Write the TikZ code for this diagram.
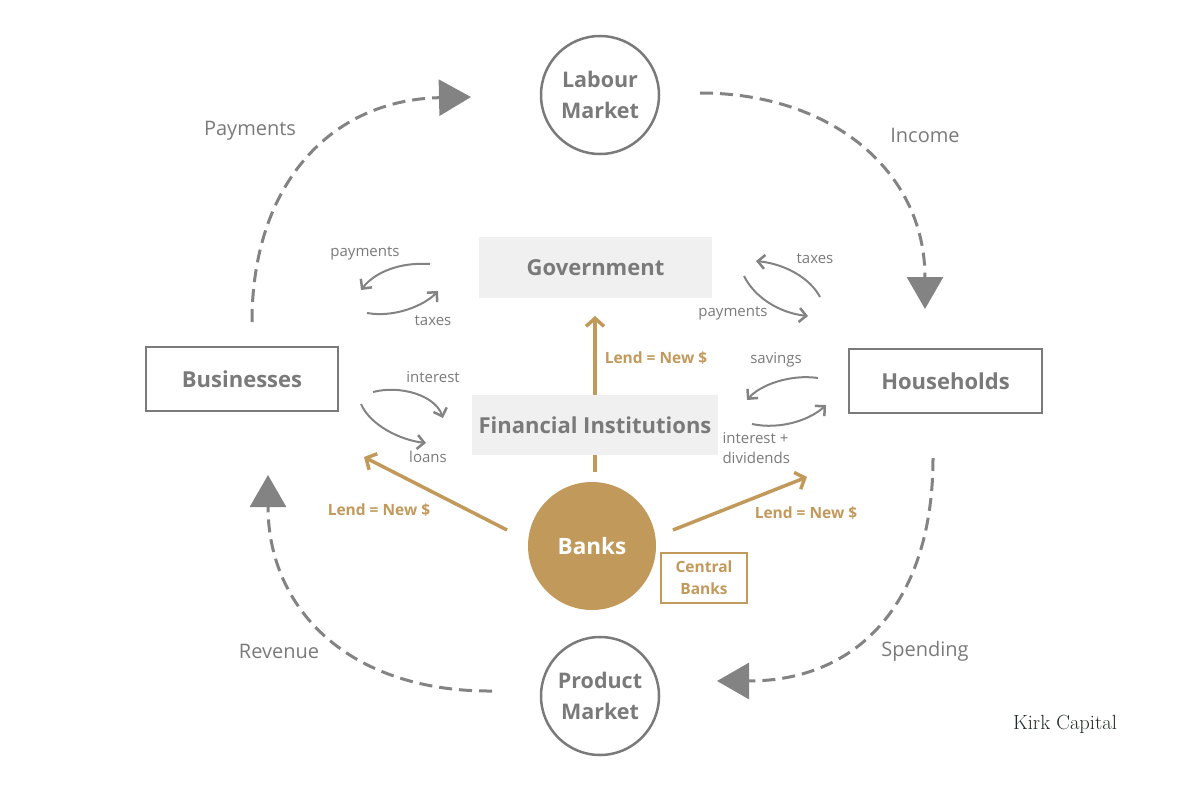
\documentclass[tikz,border=0pt]{standalone}
\usepackage{fontspec}
\setmainfont{Open Sans}
\newfontfamily\lmfont{Latin Modern Roman}
\usetikzlibrary{arrows.meta}
\definecolor{tgray}{HTML}{7A7A7A}
\definecolor{lgray}{HTML}{838383}
\definecolor{gold}{HTML}{C19A5B}
\definecolor{boxfill}{HTML}{F0F0F0}
\definecolor{kirk}{HTML}{1E2A22}
\tikzset{
  mcircle/.style={circle, draw=tgray, line width=2.5pt, minimum size=118pt, inner sep=0pt, align=center, font=\bfseries\fontsize{21.5}{31}\selectfont, text=tgray},
  fillbox/.style={rectangle, fill=boxfill, inner sep=0pt, font=\bfseries\fontsize{22}{26}\selectfont, text=tgray},
  framebox/.style={rectangle, draw=tgray, line width=2.5pt, fill=white, inner sep=0pt, font=\bfseries\fontsize{22}{26}\selectfont, text=tgray},
  bigflow/.style={draw=lgray, line width=3pt, dash pattern=on 13pt off 7pt, -{Triangle[length=32pt,width=36pt]}},
  flowlabel/.style={font=\fontsize{20}{24}\selectfont, text=tgray},
  small/.style={draw=lgray, line width=2pt, -{Straight Barb[length=7pt,width=14pt,line width=2.5pt]}},
  smalllabel/.style={font=\fontsize{15}{20}\selectfont, text=tgray, align=left},
  goldarrow/.style={draw=gold, line width=3.5pt, -{Straight Barb[length=8pt,width=18pt,line width=3.5pt]}},
  goldlabel/.style={font=\bfseries\fontsize{15.5}{18}\selectfont, text=gold},
}
\begin{document}
\begin{tikzpicture}[x=1pt,y=-1pt]
\useasboundingbox (0,0) rectangle (1200,800);
% gold arrows (drawn first, under boxes)
\coordinate (bt) at (595,472);
\coordinate (gb) at (595,316);
\draw[goldarrow] (bt) -- (gb);
\coordinate (bl) at (507,530);
\coordinate (blt) at (364,457);
\draw[goldarrow] (bl) -- (blt);
\coordinate (br) at (673,530);
\coordinate (brt) at (807,477);
\draw[goldarrow] (br) -- (brt);
\node[goldlabel] (l1) at (656,358) {Lend = New \$};
\node[goldlabel] (l2) at (379,510) {Lend = New \$};
\node[goldlabel] (l3) at (806,513) {Lend = New \$};

% nodes
\node[mcircle] (labour) at (600,95) {Labour\\Market};
\node[mcircle] (product) at (600,696) {Product\\Market};
\node[fillbox, minimum width=233pt, minimum height=61pt] (gov) at (595.5,267.5) {Government};
\node[fillbox, minimum width=246pt, minimum height=60pt] (fin) at (595,425) {Financial Institutions};
\node[framebox, minimum width=192pt, minimum height=64pt] (bus) at (242,379) {Businesses};
\node[framebox, minimum width=193pt, minimum height=64pt] (hh) at (945.5,381) {Households};
\node[circle, fill=gold, minimum size=128pt, inner sep=0pt, text=white, font=\bfseries\fontsize{22.5}{26}\selectfont] (banks) at (592,546) {Banks};
\node[rectangle, draw=gold, line width=1.8pt, minimum width=86pt, minimum height=50pt, inner sep=0pt, align=center, text=gold, font=\bfseries\fontsize{15.5}{22}\selectfont] (cb) at (704,578) {Central\\Banks};

% big dashed flows
\coordinate (f1s) at (252,322);
\coordinate (f1e) at (471,97);
\draw[bigflow] (f1s) .. controls (252,185) and (330,100) .. (f1e);
\coordinate (f2s) at (700,93);
\coordinate (f2e) at (925,309);
\draw[bigflow] (f2s) .. controls (830,93) and (925,170) .. (f2e);
\coordinate (f3s) at (933,458);
\coordinate (f3e) at (717,681);
\draw[bigflow] (f3s) .. controls (933,600) and (860,681) .. (f3e);
\coordinate (f4s) at (492,691);
\coordinate (f4e) at (268,475);
\draw[bigflow] (f4s) .. controls (350,692) and (268,610) .. (f4e);
\node[flowlabel] (pay) at (250,131) {Payments};
\node[flowlabel] (inc) at (925,135) {Income};
\node[flowlabel] (spd) at (925,651) {Spending};
\node[flowlabel] (rev) at (279,651) {Revenue};

% small arrows: government left
\coordinate (a1s) at (430,264); \coordinate (a1e) at (361,290);
\draw[small] (a1s) .. controls (400,262) and (375,272) .. (a1e);
\coordinate (a2s) at (367,313); \coordinate (a2e) at (438,291);
\draw[small] (a2s) .. controls (395,318) and (425,305) .. (a2e);
\node[smalllabel] (t1) at (365,253) {payments};
\node[smalllabel] (t2) at (433,321) {taxes};
% government right
\coordinate (a3s) at (820,297); \coordinate (a3e) at (756,261);
\draw[small] (a3s) .. controls (810,278) and (785,264) .. (a3e);
\coordinate (a4s) at (744,276); \coordinate (a4e) at (808,316);
\draw[small] (a4s) .. controls (755,298) and (780,313) .. (a4e);
\node[smalllabel] (t3) at (815,259) {taxes};
\node[smalllabel] (t4) at (733,313) {payments};
% financial left
\coordinate (a5s) at (373,392); \coordinate (a5e) at (443,418);
\draw[small] (a5s) .. controls (400,385) and (435,395) .. (a5e);
\coordinate (a6s) at (361,404); \coordinate (a6e) at (426,443);
\draw[small] (a6s) .. controls (370,425) and (400,440) .. (a6e);
\node[smalllabel] (t5) at (433,377) {interest};
\node[smalllabel] (t6) at (428,457) {loans};
% financial right
\coordinate (a7s) at (818,378); \coordinate (a7e) at (747,400);
\draw[small] (a7s) .. controls (790,374) and (760,385) .. (a7e);
\coordinate (a8s) at (752,424); \coordinate (a8e) at (826,405);
\draw[small] (a8s) .. controls (780,430) and (810,420) .. (a8e);
\node[smalllabel] (t7) at (776,360) {savings};
\node[smalllabel, anchor=west] (t8) at (719,448) {interest +\\dividends};

\node[text=kirk, font=\lmfont\fontsize{20.5}{24}\selectfont] (kirk) at (1065,724) {Kirk Capital};
\end{tikzpicture}
\end{document}
